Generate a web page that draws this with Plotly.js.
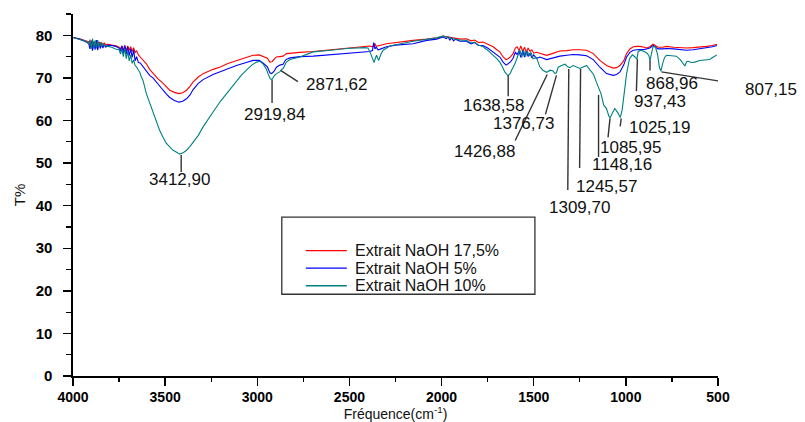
<!DOCTYPE html>
<html>
<head>
<meta charset="utf-8">
<script src="https://cdn.plot.ly/plotly-3.0.1.min.js"></script>
<style>html,body{margin:0;padding:0;background:#fff;}#chart{width:805px;height:422px;}</style>
</head>
<body>
<div id="chart"></div>
<script>
// ---- data ----
const seriesNames = ["Extrait NaOH 17,5%", "Extrait NaOH 5%", "Extrait NaOH 10%"];

const wnRed = [4000,3964,3931,3915,3908,3901,3894,3887,3880,3873,3866,3859,3852,3845,3838,3831,3822,3810,3790,3770,3750,3742,3735,3727,3719,3711,3703,3695,3687,3679,3671,3663,3655,3645,3635,3620,3602,3584,3566,3540,3511,3493,3475,3450,3425,3405,3384,3365,3349,3320,3294,3240,3204,3160,3113,3060,3023,2990,2969,2945,2932,2920,2905,2896,2878,2860,2842,2800,2769,2697,2600,2516,2420,2390,2375,2366,2362,2355,2345,2336,2299,2250,2154,2080,2027,1992,1960,1937,1900,1865,1840,1820,1800,1775,1750,1720,1700,1684,1666,1650,1639,1625,1612,1600,1590,1580,1570,1560,1550,1540,1530,1520,1510,1500,1485,1466,1430,1400,1358,1320,1286,1250,1213,1177,1141,1105,1069,1050,1032,1012,996,978,960,940,924,900,888,870,852,840,825,800,779,740,707,670,635,600,562,530,506];
const tRed = [79.5,79.2,78.7,78.5,77.7,78.8,77.4,78.6,77.3,78.7,77.5,78.5,77.6,78.3,77.6,78.2,77.8,77.9,77.7,77.6,77.2,76.8,77.5,76.5,77.6,76.4,77.5,76.5,77.3,76.2,77.1,75.9,76.4,75.4,74.9,74.2,73.3,72.0,71.0,69.8,68.7,67.9,67.1,66.6,66.3,66.5,67.1,68.0,69.0,70.2,71.0,72.0,72.5,73.4,74.1,74.8,75.3,75.4,75.1,74.6,73.7,73.8,74.6,74.9,75.0,75.1,75.7,75.9,76.0,76.2,76.6,77.0,77.4,77.5,77.3,77.7,78.0,77.4,77.6,77.6,78.0,78.3,78.8,79.1,79.4,79.8,79.6,79.3,79.1,79.2,78.7,78.9,78.3,78.4,77.9,77.3,76.6,76.1,74.9,74.3,74.5,75.0,75.7,77.0,77.3,76.4,77.5,76.2,77.2,76.0,77.0,76.2,76.6,75.8,76.0,75.7,75.3,75.7,76.3,76.4,76.6,76.6,76.5,75.7,74.1,72.9,72.3,72.4,72.9,74.0,75.7,76.8,77.3,77.4,77.4,77.2,77.0,77.3,77.9,77.6,77.2,77.2,77.4,77.2,77.1,77.0,77.1,77.2,77.4,77.6,77.9];

const wnBlue = [4000,3964,3931,3915,3908,3901,3894,3887,3880,3873,3866,3859,3852,3845,3838,3831,3822,3810,3790,3770,3750,3742,3735,3727,3719,3711,3703,3695,3687,3679,3671,3663,3655,3645,3635,3620,3602,3584,3566,3540,3511,3493,3475,3450,3425,3405,3384,3365,3349,3320,3294,3240,3204,3160,3113,3060,3023,2990,2969,2945,2932,2922,2910,2896,2878,2860,2845,2823,2769,2697,2600,2516,2420,2390,2375,2368,2362,2355,2345,2336,2299,2250,2154,2080,2027,1992,1975,1965,1955,1945,1935,1925,1900,1865,1840,1820,1800,1775,1750,1720,1700,1684,1666,1650,1639,1625,1612,1600,1590,1580,1570,1560,1550,1540,1530,1520,1510,1500,1485,1466,1430,1400,1358,1320,1286,1250,1213,1177,1141,1105,1069,1050,1032,1012,996,978,960,940,924,900,888,870,852,840,825,800,779,740,707,670,635,600,562,530,506];
const tBlue = [79.5,79.1,78.5,78.1,76.8,78.6,76.4,78.4,76.6,78.9,76.5,78.2,76.9,78.0,77.0,77.8,77.2,77.7,77.6,77.4,77.0,76.3,77.5,75.8,77.6,75.6,77.3,75.2,76.8,74.8,76.5,74.0,75.0,73.6,73.5,72.6,71.8,70.6,70.0,68.5,67.1,66.2,65.4,64.7,64.3,64.5,65.1,66.0,67.2,68.7,69.6,70.8,71.4,72.3,72.9,73.6,74.1,74.1,73.5,72.6,71.2,71.0,71.5,72.5,73.0,73.2,74.3,74.7,75.0,75.1,75.4,75.7,76.1,76.2,76.4,78.3,76.8,77.2,76.6,76.7,77.3,77.7,78.0,78.8,79.1,79.6,79.2,79.6,78.9,79.4,78.7,79.1,78.6,78.6,78.0,78.3,77.6,77.6,77.0,76.1,75.5,74.9,73.7,73.0,73.3,73.8,74.6,76.0,75.5,76.3,74.8,76.4,74.9,76.2,75.0,75.8,74.7,75.4,74.6,74.9,74.3,74.7,75.1,75.3,75.5,75.4,75.2,74.3,72.5,71.0,70.6,70.8,71.4,73.0,74.9,76.0,76.5,76.6,76.6,76.7,76.8,77.0,77.6,77.3,76.8,76.8,76.9,76.8,76.6,76.5,76.6,76.8,77.0,77.3,77.6];

const wnTeal = [4000,3964,3931,3915,3908,3901,3894,3887,3880,3873,3866,3859,3852,3845,3838,3831,3822,3810,3790,3770,3750,3742,3735,3727,3719,3711,3703,3695,3687,3679,3671,3663,3656,3645,3638,3629,3620,3602,3584,3566,3548,3530,3511,3493,3475,3457,3440,3421,3400,3384,3365,3349,3320,3294,3268,3240,3200,3167,3140,3113,3085,3059,3030,3004,2985,2969,2950,2942,2930,2920,2908,2896,2878,2871,2860,2842,2823,2769,2697,2600,2516,2420,2399,2385,2366,2360,2353,2341,2330,2317,2281,2154,2080,2027,1992,1960,1937,1900,1865,1840,1820,1800,1775,1750,1735,1720,1700,1684,1670,1657,1639,1628,1620,1602,1585,1575,1565,1555,1545,1535,1525,1515,1503,1485,1467,1450,1430,1410,1395,1385,1377,1367,1349,1330,1315,1304,1286,1268,1250,1235,1213,1195,1175,1160,1148,1135,1120,1105,1092,1086,1075,1060,1045,1030,1020,1008,996,980,965,950,940,933,920,900,885,875,869,862,852,840,828,818,810,800,790,779,750,726,705,690,680,670,662,645,626,600,570,545,525,506];
const tTeal = [79.5,79.1,78.6,78.0,79.0,76.8,79.2,77.0,78.8,76.9,78.9,77.3,78.4,77.4,78.1,77.5,77.6,77.4,77.2,76.8,76.6,75.6,76.8,75.0,76.9,74.5,76.2,74.0,75.4,73.4,74.2,72.9,72.6,71.8,71.4,70.2,69.4,66.3,64.2,61.6,59.8,57.7,56.0,54.6,53.8,53.0,52.6,52.1,52.5,53.0,53.9,54.9,56.5,58.5,60.3,62.0,64.5,66.3,67.9,69.4,70.7,71.8,73.0,73.7,73.9,73.3,72.0,71.0,69.8,69.6,70.5,71.0,71.4,71.9,72.2,73.7,74.3,74.9,76.1,76.5,76.9,77.1,77.0,75.7,73.6,74.5,75.3,74.1,75.5,76.5,77.5,78.6,79.0,79.4,79.8,79.4,79.2,78.9,78.8,78.2,78.4,77.7,77.3,76.5,76.0,75.3,74.5,73.7,72.6,71.4,70.5,71.0,71.8,73.3,75.3,76.6,74.8,76.5,75.0,76.3,75.2,76.0,74.5,74.8,72.6,71.8,71.3,71.8,71.6,71.0,71.2,72.5,72.9,73.2,72.6,72.4,72.9,72.6,72.2,72.5,72.9,71.9,70.8,69.0,67.9,66.3,63.6,62.8,61.0,60.6,61.6,62.8,61.9,60.7,62.5,67.0,71.0,74.5,75.4,74.9,74.4,76.2,76.5,76.2,75.8,75.2,74.0,75.5,77.4,77.3,75.5,72.5,71.6,73.4,74.8,75.3,75.2,75.1,74.3,73.3,72.8,73.8,73.9,73.6,73.7,74.1,74.2,74.3,74.9,75.4];

// labelled bands (cm-1) and the transmittance where each label line starts
const peakWn = [3412.90, 2919.84, 2871.62, 1638.58, 1426.88, 1376.73, 1309.70, 1245.57, 1148.16, 1085.95, 1025.19, 937.43, 868.96, 807.15];
const peakT  = [51.9, 69.5, 71.7, 70.6, 70.8, 70.6, 72.1, 72.1, 66.0, 60.5, 60.5, 74.4, 74.1, 71.4];

const xTickVals = [4000, 3500, 3000, 2500, 2000, 1500, 1000, 500];
const yTickVals = [0, 10, 20, 30, 40, 50, 60, 70, 80];

// ---- styling / placement (pixels) ----
const colors = ["#ff0000", "#0000ff", "#008080"];
// [line dx, line dy, text dx, text dy] relative to the label point, in px (dy downwards)
const labelGeom = [
  [0, 17, -2, 25], [0, 23, 2, 34], [17, 11, 56, 14], [0, 21, -15, 30],
  [-32, 66, -63, 77], [-11, 39, -33, 48], [-1, 121, 11, 139], [-1, 99, 26, 118],
  [0, 62, 23, 70], [-2, 19, 20, 29], [-1, 8, 38, 9], [-1, 32, 23, 42],
  [0, 10, 22, 23], [82, 13, 110, 18]
];

const FONT = "Liberation Sans, Arial, Helvetica, sans-serif";

const xs = [wnRed, wnBlue, wnTeal];
const ys = [tRed, tBlue, tTeal];
const traces = xs.map((x, i) => ({
  x: x, y: ys[i], type: "scatter", mode: "lines", name: seriesNames[i],
  line: {color: colors[i], width: 1.1}, showlegend: false, hoverinfo: "x+y"
}));

const shapes = [];
const annotations = [];
peakWn.forEach((wn, i) => {
  const g = labelGeom[i];
  shapes.push({
    type: "line", xref: "x", yref: "y",
    xsizemode: "pixel", xanchor: wn, x0: 0, x1: g[0],
    ysizemode: "pixel", yanchor: peakT[i], y0: 0, y1: -g[1],
    line: {color: "#333333", width: 1.4}
  });
  annotations.push({
    x: wn, y: peakT[i], xref: "x", yref: "y", showarrow: false,
    xshift: g[2], yshift: -g[3], xanchor: "center", yanchor: "middle",
    text: wn.toFixed(2).replace(".", ","),
    font: {family: FONT, size: 17, color: "#111111"}
  });
});

// legend drawn inside a framed box (paper coordinates)
const plotL = 73.3, plotW = 644.7, plotB = 375.7, plotH = 361.7;
const px = v => (v - plotL) / plotW;
const py = v => (plotB - v) / plotH;
shapes.push({type: "rect", xref: "paper", yref: "paper",
  x0: px(282), x1: px(535), y0: py(294), y1: py(217),
  line: {color: "#333333", width: 1.3}, fillcolor: "rgba(255,255,255,0)"});
const rowY = [250.5, 268, 285.5];
seriesNames.forEach((n, i) => {
  shapes.push({type: "line", xref: "paper", yref: "paper",
    x0: px(306), x1: px(347), y0: py(rowY[i]), y1: py(rowY[i]),
    line: {color: colors[i], width: 1.3}});
  annotations.push({x: px(353), y: py(rowY[i]), xref: "paper", yref: "paper",
    xanchor: "left", yanchor: "middle", showarrow: false, text: n,
    font: {family: FONT, size: 16, color: "#111111"}});
});

const layout = {
  width: 805, height: 422,
  margin: {l: 73.3, r: 805 - 718, t: 14, b: 422 - 375.7, pad: 0},
  paper_bgcolor: "#ffffff", plot_bgcolor: "#ffffff",
  showlegend: false,
  xaxis: {
    range: [4000, 500], tickvals: xTickVals, ticktext: xTickVals.map(String),
    showgrid: false, zeroline: false, showline: true, linecolor: "#000", linewidth: 1.6,
    ticks: "outside", ticklen: 8, tickwidth: 1.4, tickcolor: "#000",
    minor: {dtick: 250, ticks: "outside", ticklen: 4, tickwidth: 1.2, tickcolor: "#000", showgrid: false},
    tickfont: {family: FONT, size: 14, color: "#000", weight: "bold"},
    ticklabelstandoff: 0,
    title: {text: "Fréquence(cm<sup>-1</sup>)", font: {family: FONT, size: 14, color: "#111"}, standoff: 3}
  },
  yaxis: {
    range: [0, 85], tickvals: yTickVals, ticktext: yTickVals.map(String),
    showgrid: false, zeroline: false, showline: true, linecolor: "#000", linewidth: 1.6,
    ticks: "outside", ticklen: 8, tickwidth: 1.4, tickcolor: "#000",
    minor: {dtick: 5, ticks: "outside", ticklen: 5, tickwidth: 1.2, tickcolor: "#000", showgrid: false},
    tickfont: {family: FONT, size: 15, color: "#000", weight: "bold"},
    ticklabelstandoff: 8,
    title: {text: "T%", font: {family: FONT, size: 15, color: "#111"}, standoff: 6}
  },
  shapes: shapes,
  annotations: annotations
};

Plotly.newPlot("chart", traces, layout, {displayModeBar: false, staticPlot: true});
</script>
</body>
</html>
